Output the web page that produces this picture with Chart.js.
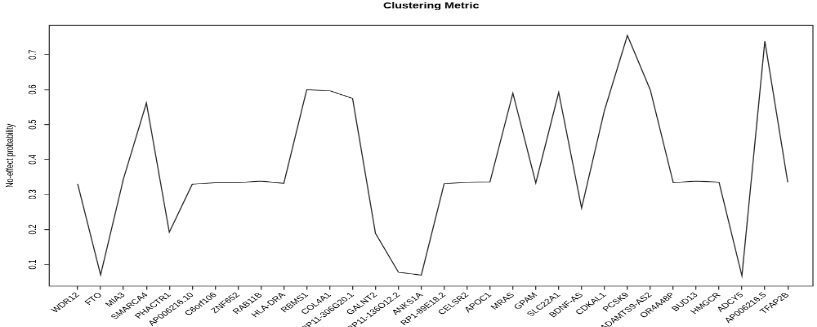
<!DOCTYPE html>
<html>
<head>
<meta charset="utf-8">
<title>Clustering Metric</title>
<script src="https://cdn.jsdelivr.net/npm/chart.js@4.4.1/dist/chart.umd.min.js"></script>
<style>
  html, body { margin: 0; padding: 0; background: #fff; overflow: hidden; }
  /* the reference looks like a wider R plot squeezed into 817x327 */
  #wrap { width: 1000px; height: 545px; transform: scale(0.817, 0.6); transform-origin: 0 0; }
</style>
</head>
<body>
<div id="wrap"><canvas id="chart" width="1000" height="545"></canvas></div>
<script>
const chartTitle = "Clustering Metric";
const yTitle = "No-effect probability";

const genes = [
    "WDR12", "FTO", "MIA3", "SMARCA4", "PHACTR1", "AP006216.10", "C6orf106", "ZNF652",
    "RAB11B", "HLA-DRA", "RBMS1", "COL4A1", "RP11-306G20.1", "GALNT2", "RP11-136O12.2", "ANKS1A",
    "RP1-89E18.2", "CELSR2", "APOC1", "MRAS", "GPAM", "SLC22A1", "BDNF-AS", "CDKAL1",
    "PCSK9", "ADAMTS9-AS2", "OR4A48P", "BUD13", "HMGCR", "ADCY5", "AP006216.5", "TFAP2B"
];

const noEffect = [
    0.330, 0.070, 0.345, 0.562, 0.192, 0.329, 0.334, 0.334,
    0.338, 0.332, 0.600, 0.597, 0.575, 0.189, 0.078, 0.069,
    0.331, 0.335, 0.336, 0.590, 0.333, 0.592, 0.261, 0.541,
    0.755, 0.599, 0.334, 0.338, 0.335, 0.067, 0.739, 0.335
];

const yTicks = [0.1, 0.2, 0.3, 0.4, 0.5, 0.6, 0.7];

const FONT = "'Liberation Sans', Arial, Helvetica, sans-serif";

// box, title, rotated y labels (R style)
const rFrame = {
    id: "rFrame",
    afterDraw(chart) {
        const { ctx, chartArea: a, scales } = chart;
        ctx.save();
        ctx.strokeStyle = "#333";
        ctx.lineWidth = 1.3;
        ctx.strokeRect(a.left, a.top, a.right - a.left, a.bottom - a.top);

        ctx.fillStyle = "#000";
        ctx.textAlign = "center";
        ctx.textBaseline = "middle";
        ctx.font = "bold 14.4px " + FONT;
        ctx.fillText(chartTitle, (a.left + a.right) / 2, 10);

        ctx.font = "12px " + FONT;
        yTicks.forEach(v => {
            const y = scales.y.getPixelForValue(v);
            ctx.save();
            ctx.translate(a.left - 20, y);
            ctx.rotate(-Math.PI / 2);
            ctx.fillText(v.toFixed(1), 0, 0);
            ctx.restore();
        });

        ctx.translate(13, (a.top + a.bottom) / 2);
        ctx.rotate(-Math.PI / 2);
        ctx.fillText(yTitle, 0, 0);
        ctx.restore();
    }
};

new Chart(document.getElementById("chart"), {
    type: "line",
    data: {
        datasets: [{
            data: noEffect.map((v, i) => ({ x: i, y: v })),
            borderColor: "#222",
            borderWidth: 1.3,
            pointRadius: 0,
            tension: 0,
            fill: false
        }]
    },
    options: {
        responsive: false,
        animation: false,
        devicePixelRatio: 1,
        layout: { padding: { top: 42.2, right: 5, left: 0, bottom: 0 } },
        plugins: { legend: { display: false }, tooltip: { enabled: false } },
        scales: {
            x: {
                type: "linear",
                min: -1.24,
                max: 32.1,
                afterBuildTicks: s => { s.ticks = genes.map((_, i) => ({ value: i })); },
                afterFit: s => { s.height = 68.3; },
                border: { display: false },
                grid: { drawOnChartArea: false, drawTicks: true, tickLength: 6, color: "#333", lineWidth: 1.3 },
                ticks: {
                    autoSkip: false,
                    minRotation: 45,
                    maxRotation: 45,
                    padding: 2,
                    color: "#000",
                    font: { family: FONT, size: 12 },
                    callback: v => genes[v]
                }
            },
            y: {
                min: 0.038,
                max: 0.784,
                afterBuildTicks: s => { s.ticks = yTicks.map(v => ({ value: v })); },
                afterFit: s => { s.width = 60.3; },
                border: { display: false },
                grid: { drawOnChartArea: false, drawTicks: true, tickLength: 6, color: "#333", lineWidth: 1.3 },
                ticks: { display: false }
            }
        }
    },
    plugins: [rFrame]
});
</script>
</body>
</html>
